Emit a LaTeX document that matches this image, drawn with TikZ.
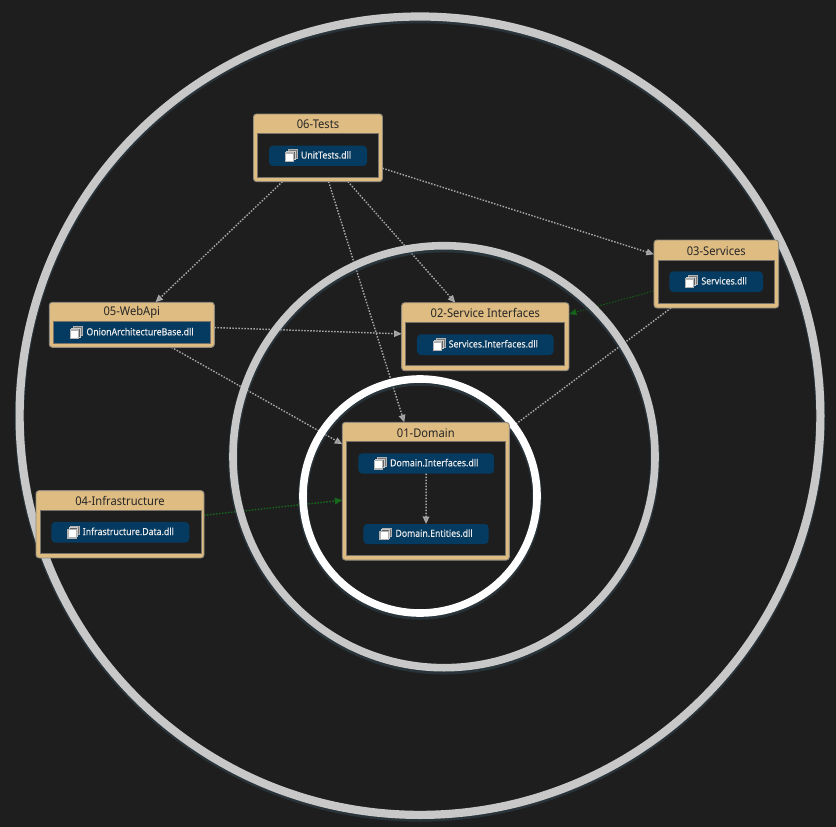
\documentclass[tikz,border=0pt]{standalone}
\usepackage{fontspec}
\setmainfont{Noto Sans}
\usetikzlibrary{arrows.meta}
\pgfdeclarelayer{canvas}
\pgfdeclarelayer{links}
\pgfdeclarelayer{rings}
\pgfdeclarelayer{front}
\pgfsetlayers{canvas,links,rings,main,front}
\definecolor{bgdark}{HTML}{1E1E1E}
\definecolor{tan}{HTML}{DFBC82}
\definecolor{tanedge}{HTML}{8F8A7E}
\definecolor{pillblue}{HTML}{063B61}
\definecolor{ringgray}{HTML}{C8C8C8}
\definecolor{linkgray}{HTML}{A8A8A8}
\definecolor{linkgreen}{HTML}{17691C}
\definecolor{linkgreendim}{HTML}{145A18}
\definecolor{glow}{HTML}{3A5566}
\definecolor{inneredge}{HTML}{77736A}
\tikzset{
  module/.style={draw=tanedge,line width=0.9pt,fill=tan,rounded corners=3pt,inner sep=0pt,outer sep=0pt},
  inside/.style={draw=inneredge,line width=1pt,fill=bgdark,inner sep=0pt,outer sep=0pt},
  title/.style={text=black!85,font=\fontsize{12}{14}\selectfont\addfontfeatures{FakeStretch=0.93},inner sep=0pt},
  pill/.style={fill=pillblue,rounded corners=4pt,inner sep=0pt,outer sep=0pt,text=white!92!black,
    font=\fontsize{9.7}{12}\selectfont\addfontfeatures{FakeBold=0.15,FakeStretch=0.9},text height=7.5pt,text depth=2pt},
  squarepill/.style={pill,rounded corners=0pt,draw=inneredge,line width=1pt},
  link/.style={draw=linkgray,line width=1.4pt,dash pattern=on 1.5pt off 1.5pt,
    -{Triangle[length=7.5pt,width=6.5pt,fill=linkgray!85!black]}},
  greenlink/.style={link,draw=linkgreen,-{Triangle[length=7.5pt,width=6.5pt,fill=linkgreen]}},
  dimgreenlink/.style={link,draw=linkgreendim,line width=1pt,-{Triangle[length=7.5pt,width=6.5pt,fill=linkgreen]}},
  ring/.style={line width=8.2pt},
  thinring/.style={line width=7.6pt},
  ringglow/.style={line width=9.5pt,draw=glow,opacity=.4},
  dllicon/.pic={
    \draw[draw=white!70!black,fill=bgdark!60!white,line width=.9pt] (-2.6,-6) rectangle (6,2.6);
    \draw[draw=white!80!black,fill=bgdark!70!white,line width=.9pt] (-4.2,-4.4) rectangle (4.4,4.2);
    \draw[draw=white!70!black,fill=white,line width=1.3pt] (-5.6,-2.8) rectangle (2.8,5.6);
  }
}
\newcommand{\dllicon}[2]{\path (#1,#2) pic {dllicon};}
\newcommand{\lbl}[1]{\hspace*{16pt}#1}
\begin{document}
\begin{tikzpicture}[x=1pt,y=-1pt]
\useasboundingbox (0,0) rectangle (836,827);
\begin{pgfonlayer}{canvas}
  \fill[bgdark] (0,0) rectangle (836,827);
\end{pgfonlayer}

% 06-Tests
\node[module,minimum width=129pt,minimum height=67.6pt] (tests) at (318,147.8) {};
\node[inside,minimum width=120.3pt,minimum height=43.7pt] (testsin) at (317.9,155.8) {};
\node[title] (teststitle) at (318,124.6) {06-Tests};
\node[pill,minimum width=98pt,minimum height=20.3pt] (unittests) at (318,155.8) {\lbl{UnitTests.dll}};
\dllicon{291}{155.7}

% 03-Services
\node[module,minimum width=124.7pt,minimum height=68pt] (services) at (716.3,274) {};
\node[inside,minimum width=116.7pt,minimum height=43pt] (servicesin) at (716.6,281.5) {};
\node[title] (servicestitle) at (716.3,251) {03-Services};
\node[pill,minimum width=93.7pt,minimum height=20.7pt] (servicesdll) at (716.2,281.7) {\lbl{Services.dll}};
\dllicon{691}{281.7}

% 02-Service Interfaces
\node[module,minimum width=167.3pt,minimum height=68pt] (ifaces) at (485.3,336.7) {};
\node[inside,minimum width=159.3pt,minimum height=43.3pt] (ifacesin) at (485.3,344.3) {};
\node[title] (ifacestitle) at (485.3,312.7) {02-Service Interfaces};
\node[pill,minimum width=136.7pt,minimum height=20.7pt] (ifacesdll) at (485.3,344.7) {\lbl{Services.Interfaces.dll}};
\dllicon{439}{344.7}

% 05-WebApi
\node[module,minimum width=165pt,minimum height=45pt] (webapi) at (131.8,324.8) {};
\node[title] (webapititle) at (131.8,312.7) {05-WebApi};
\node[squarepill,minimum width=157.4pt,minimum height=21.6pt] (webapidll) at (132,332.5) {\lbl{OnionArchitectureBase.dll}};
\dllicon{76}{332.8}

% 01-Domain
\node[module,minimum width=167pt,minimum height=137.7pt] (domain) at (425.8,491.2) {};
\node[inside,minimum width=158.6pt,minimum height=113.7pt] (domainin) at (426,498.8) {};
\node[title] (domaintitle) at (425.8,432.7) {01-Domain};
\node[pill,minimum width=135.7pt,minimum height=20.4pt] (domifaces) at (426.2,463.5) {\lbl{Domain.Interfaces.dll}};
\dllicon{380}{463.5}
\node[pill,minimum width=125.4pt,minimum height=20pt] (domentities) at (426,534) {\lbl{Domain.Entities.dll}};
\dllicon{385.5}{534}

% 04-Infrastructure
\node[module,minimum width=168pt,minimum height=67.3pt] (infra) at (120,524.3) {};
\node[inside,minimum width=161pt,minimum height=43.3pt] (infrain) at (120.5,532.3) {};
\node[title] (infratitle) at (120,500.7) {04-Infrastructure};
\node[pill,minimum width=138pt,minimum height=20.7pt] (infradll) at (120.3,532.3) {\lbl{Infrastructure.Data.dll}};
\dllicon{73.5}{532.3}

\begin{pgfonlayer}{links}
  \draw[link] (tests) -- (webapi);
  \draw[link] (tests) -- (domain);
  \draw[link] (tests) -- (ifaces);
  \draw[link] (tests) -- (services);
  \draw[link] (webapi) -- (ifaces);
  \draw[link] (webapi) -- (domain);
  \draw[link] (services) -- (domain);
  \draw[dimgreenlink] (services) -- (ifaces);
  \draw[greenlink] (infra) -- (domain);
\end{pgfonlayer}

\begin{pgfonlayer}{rings}
  \draw[ringglow] (420,417.7) ellipse [x radius=400.4pt,y radius=399.2pt];
  \draw[ring,draw=ringgray] (420,415.7) ellipse [x radius=400.4pt,y radius=399.2pt];
  \draw[ringglow] (444,458.7) circle [radius=211pt];
  \draw[thinring,draw=ringgray] (444,456.7) circle [radius=211pt];
  \draw[ringglow] (420,498) circle [radius=117pt];
  \draw[thinring,draw=white] (420,496) circle [radius=117pt];
\end{pgfonlayer}

\begin{pgfonlayer}{front}
  \draw[link] (domifaces) -- (domentities);
\end{pgfonlayer}
\end{tikzpicture}
\end{document}
